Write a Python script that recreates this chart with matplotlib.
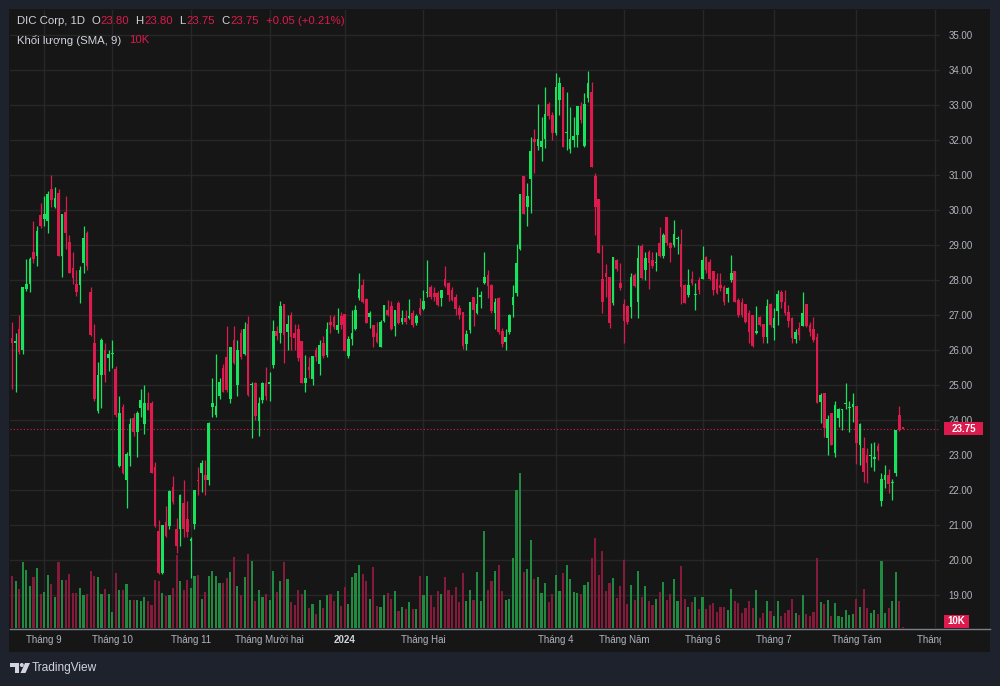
import matplotlib
matplotlib.use("Agg")
import matplotlib.pyplot as plt
from matplotlib.patches import Rectangle, Polygon, Circle
from matplotlib.lines import Line2D
from matplotlib.transforms import Affine2D, Bbox, TransformedBbox, blended_transform_factory

FONT = ['Liberation Sans', 'DejaVu Sans']
plt.rcParams['font.family'] = FONT

# ---------------- data ----------------
opens = [
    26.35, 26.2, 26.6, 26.0, 27.75, 27.9, 28.8, 28.7, 29.85, 29.75,
    29.7, 30.6, 30.1, 30.5, 28.7, 29.95, 29.1, 28.35, 27.9, 27.86,
    28.5, 29.35, 27.66, 26.2, 24.25, 25.3, 26.0, 25.77, 25.88, 25.45,
    22.7, 24.37, 22.3, 22.97, 24.05, 23.66, 24.35, 23.9, 24.5, 24.5,
    22.65, 20.83, 19.63, 21.1, 20.97, 22.1, 20.9, 20.89, 21.63, 21.17,
    20.55, 21.03, 22.3, 22.5, 22.43, 22.3, 24.37, 24.15, 24.7, 25.5,
    25.8, 24.6, 26.3, 25.0, 26.5, 25.9, 26.74, 25.0, 25.06, 23.97,
    24.57, 25.06, 25.03, 25.57, 26.54, 26.49, 27.31, 26.51, 27.0, 26.49,
    26.6, 26.26, 25.06, 25.51, 25.17, 26.0, 25.6, 26.2, 25.86, 26.8,
    26.94, 26.57, 26.97, 27.03, 25.83, 26.31, 26.6, 27.49, 27.86, 27.46,
    26.94, 26.71, 26.49, 26.09, 26.83, 27.14, 27.26, 26.69, 27.34, 26.8,
    26.91, 26.91, 27.06, 26.77, 27.2, 27.17, 27.63, 27.8, 27.63, 27.63,
    27.49, 28.03, 27.91, 27.71, 27.51, 27.2, 27.09, 26.17, 26.57, 27.51,
    27.06, 27.52, 27.91, 28.14, 27.86, 27.06, 27.49, 26.54, 26.23, 26.51,
    27.29, 27.63, 28.89, 30.97, 30.09, 30.89, 32.03, 31.83, 31.8, 32.03,
    33.03, 32.71, 32.2, 33.14, 33.51, 32.2, 31.74, 32.0, 32.14, 32.97,
    31.83, 33.2, 33.37, 30.97, 30.31, 28.03, 28.2, 28.09, 27.34, 28.57,
    27.91, 27.31, 27.26, 27.23, 28.14, 27.37, 28.97, 28.29, 28.8, 28.57,
    28.49, 29.06, 28.69, 29.8, 29.06, 29.0, 29.17, 29.03, 27.86, 27.57,
    28.03, 27.57, 28.0, 28.03, 28.66, 28.51, 28.26, 28.03, 27.86, 27.8,
    27.6, 28.0, 28.26, 27.43, 27.37, 27.31, 27.06, 27.0, 26.49, 26.94,
    26.74, 26.37, 27.31, 26.63, 27.11, 27.66, 27.37, 27.09, 26.91, 26.31,
    26.63, 26.69, 27.31, 26.71, 26.6, 26.37, 24.51, 24.77, 23.49, 24.2,
    23.06, 24.06, 24.29, 24.47, 24.33, 24.37, 24.4, 23.29, 23.2, 23.0,
    22.98, 22.9, 23.26, 21.69, 22.29, 22.43, 22.19, 22.49, 24.14, 23.8,
]
highs = [
    26.8, 26.5, 27.0, 27.8, 28.6, 28.65, 29.7, 29.55, 30.2, 30.4,
    30.55, 31.0, 30.65, 30.6, 29.9, 30.4, 29.3, 28.8, 28.3, 28.4,
    29.55, 29.4, 27.8, 26.75, 25.65, 26.35, 26.2, 26.0, 26.3, 25.55,
    24.7, 24.45, 23.1, 24.05, 24.2, 24.25, 24.9, 25.0, 24.8, 24.55,
    22.8, 21.15, 21.0, 21.55, 22.0, 22.4, 21.2, 21.9, 22.3, 21.7,
    20.65, 22.0, 22.65, 22.85, 22.85, 23.95, 25.2, 25.9, 25.2, 25.6,
    26.7, 26.1, 26.7, 26.3, 26.6, 26.8, 26.97, 25.1, 25.1, 24.66,
    25.1, 25.51, 25.37, 26.85, 26.7, 27.4, 27.31, 27.0, 27.1, 26.74,
    26.74, 26.26, 25.86, 25.8, 25.83, 26.1, 26.3, 26.4, 26.8, 27.0,
    27.0, 27.2, 27.1, 27.03, 26.4, 27.14, 27.3, 28.2, 28.03, 27.5,
    27.11, 26.71, 26.8, 26.85, 27.3, 27.43, 27.4, 27.14, 27.4, 27.14,
    27.14, 27.46, 27.14, 27.03, 27.5, 27.71, 28.57, 27.86, 27.8, 27.7,
    27.71, 28.4, 27.95, 27.8, 27.6, 27.3, 27.09, 26.57, 27.37, 27.51,
    27.8, 27.7, 28.8, 28.3, 27.9, 27.5, 27.51, 26.63, 26.6, 27.03,
    27.86, 29.03, 30.46, 30.97, 30.77, 32.09, 32.31, 33.03, 32.66, 33.51,
    33.1, 32.8, 33.91, 33.8, 33.51, 33.37, 32.94, 32.66, 32.97, 33.1,
    33.34, 33.97, 33.66, 31.06, 30.31, 29.0, 28.46, 28.09, 28.66, 28.6,
    28.49, 27.46, 27.3, 28.2, 28.2, 29.0, 29.03, 28.8, 28.86, 28.8,
    28.8, 29.51, 29.35, 29.8, 29.09, 29.71, 29.26, 29.46, 27.9, 28.31,
    28.26, 27.91, 28.1, 28.97, 28.7, 28.6, 28.26, 28.2, 28.2, 27.86,
    27.8, 28.71, 28.26, 27.5, 27.5, 27.31, 27.14, 27.0, 27.26, 26.97,
    26.74, 27.46, 27.35, 27.2, 27.71, 27.71, 27.71, 27.3, 26.94, 26.6,
    26.8, 27.66, 27.31, 26.8, 26.94, 26.49, 24.77, 24.77, 24.14, 24.2,
    24.54, 24.34, 24.31, 25.06, 24.54, 24.77, 24.4, 23.91, 23.51, 23.2,
    23.34, 23.37, 23.34, 22.49, 22.71, 22.6, 22.31, 23.71, 24.4, 23.8,
]
lows = [
    24.9, 24.8, 25.9, 25.9, 27.7, 27.65, 28.5, 28.4, 29.5, 29.55,
    29.35, 30.1, 30.05, 28.7, 28.1, 28.9, 28.2, 27.9, 27.55, 27.35,
    28.2, 28.3, 26.4, 24.55, 24.2, 24.35, 25.1, 25.4, 25.5, 24.1,
    22.65, 22.45, 21.5, 22.7, 23.55, 22.95, 24.1, 23.6, 24.3, 22.5,
    20.95, 19.6, 19.6, 20.65, 20.9, 21.6, 20.2, 20.4, 20.66, 20.65,
    19.5, 20.9, 21.85, 21.95, 21.85, 22.15, 24.1, 24.1, 24.6, 24.8,
    24.8, 24.5, 25.6, 24.7, 25.75, 25.85, 24.7, 23.5, 24.0, 23.54,
    24.5, 24.57, 24.54, 25.5, 26.3, 26.2, 25.63, 26.0, 26.0, 26.0,
    25.7, 25.06, 24.8, 25.2, 25.0, 25.7, 25.3, 25.77, 25.8, 26.5,
    26.6, 26.5, 26.6, 25.97, 25.77, 26.14, 26.57, 27.43, 27.34, 26.77,
    26.63, 26.09, 26.2, 26.09, 26.8, 26.97, 26.57, 26.4, 26.74, 26.74,
    26.74, 26.89, 26.66, 26.71, 27.0, 27.14, 27.51, 27.46, 27.4, 27.26,
    27.26, 27.8, 27.4, 27.4, 27.0, 26.9, 26.03, 26.0, 26.5, 26.7,
    27.03, 27.2, 27.9, 27.5, 27.06, 26.6, 26.46, 26.09, 26.0, 26.46,
    26.94, 27.54, 28.86, 29.89, 29.54, 29.91, 31.06, 31.71, 31.4, 31.77,
    32.6, 32.0, 32.14, 32.71, 31.8, 31.71, 31.63, 31.8, 31.8, 32.5,
    31.8, 33.09, 31.23, 29.29, 28.77, 27.06, 27.51, 26.63, 27.3, 28.25,
    27.71, 26.2, 26.75, 26.91, 27.8, 26.91, 28.03, 28.0, 27.74, 28.35,
    28.26, 28.66, 28.63, 29.0, 28.51, 28.94, 28.74, 27.31, 27.34, 27.51,
    27.86, 27.14, 27.6, 28.03, 28.2, 28.0, 27.57, 27.6, 27.7, 27.3,
    27.37, 27.94, 27.37, 26.94, 26.94, 26.77, 26.2, 26.09, 26.46, 26.7,
    26.2, 26.2, 26.66, 26.3, 26.71, 27.2, 27.0, 26.66, 26.2, 26.2,
    26.3, 26.69, 26.66, 26.4, 26.23, 24.49, 23.91, 23.51, 23.0, 23.29,
    22.94, 23.8, 23.71, 24.31, 23.66, 23.94, 22.74, 22.71, 22.23, 22.2,
    22.66, 22.54, 22.86, 21.54, 22.06, 21.91, 21.71, 22.4, 23.69, 23.75,
]
closes = [
    26.2, 26.25, 25.95, 27.8, 27.9, 28.6, 28.6, 29.4, 29.55, 29.9,
    30.45, 30.3, 30.35, 28.7, 29.9, 29.35, 28.2, 28.05, 27.65, 28.3,
    29.2, 28.4, 26.43, 24.6, 25.3, 26.3, 25.3, 25.9, 25.92, 24.15,
    24.2, 22.49, 23.03, 23.9, 23.66, 24.2, 24.57, 24.5, 24.3, 22.5,
    20.97, 19.63, 21.0, 20.7, 21.97, 21.65, 20.4, 21.86, 20.9, 20.8,
    20.6, 22.0, 22.25, 22.77, 22.3, 23.91, 24.49, 24.4, 25.1, 24.8,
    24.85, 26.09, 25.63, 26.0, 25.8, 26.6, 24.71, 25.03, 24.11, 24.49,
    25.06, 24.69, 25.09, 26.54, 26.4, 27.26, 26.43, 26.74, 26.37, 26.34,
    25.77, 25.06, 25.2, 25.43, 25.83, 25.8, 26.14, 25.83, 26.6, 26.71,
    26.66, 26.71, 26.71, 25.97, 26.31, 26.49, 27.14, 27.74, 27.37, 26.77,
    27.06, 26.37, 26.23, 26.8, 27.29, 27.0, 26.6, 27.14, 26.77, 26.91,
    26.8, 26.97, 26.71, 26.97, 27.03, 27.4, 27.66, 27.51, 27.51, 27.29,
    27.71, 27.83, 27.57, 27.43, 27.17, 27.0, 26.11, 26.46, 27.37, 27.14,
    27.31, 27.56, 28.09, 27.83, 27.11, 27.37, 26.51, 26.17, 26.37, 27.0,
    27.51, 28.49, 30.46, 29.89, 30.4, 31.69, 31.94, 32.03, 31.97, 32.74,
    32.69, 32.2, 33.51, 33.63, 31.8, 32.23, 32.03, 32.11, 32.97, 32.57,
    33.03, 33.63, 31.23, 30.09, 28.77, 27.37, 28.09, 26.77, 28.66, 28.31,
    27.77, 26.83, 26.8, 28.09, 27.83, 28.63, 28.06, 28.63, 28.49, 28.4,
    28.51, 28.69, 29.29, 29.06, 28.91, 29.31, 29.2, 27.8, 27.34, 27.86,
    27.91, 27.6, 27.71, 28.57, 28.29, 28.03, 27.71, 27.63, 27.77, 27.37,
    27.77, 28.2, 27.37, 27.0, 27.0, 26.8, 26.51, 26.11, 26.54, 26.71,
    26.37, 27.26, 26.71, 26.91, 27.6, 27.37, 27.06, 26.83, 26.34, 26.51,
    26.43, 27.06, 26.69, 26.51, 26.29, 24.49, 24.71, 23.77, 24.03, 23.29,
    24.43, 24.31, 24.31, 24.49, 24.35, 24.46, 23.34, 23.89, 22.51, 22.77,
    23.0, 22.92, 23.11, 22.31, 22.43, 22.17, 22.21, 23.71, 23.71, 23.75,
]
# volume in thousands of shares
volumes_k = [
    520, 470, 390, 660, 580, 420, 510, 600, 340, 360,
    530, 440, 310, 660, 480, 480, 540, 350, 350, 400,
    330, 340, 570, 520, 510, 340, 390, 340, 160, 550,
    380, 380, 440, 280, 280, 280, 270, 310, 270, 230,
    480, 470, 350, 320, 330, 400, 730, 470, 380, 480,
    400, 520, 530, 290, 360, 520, 570, 520, 450, 450,
    500, 560, 710, 420, 330, 510, 740, 670, 270, 380,
    310, 340, 280, 570, 360, 470, 660, 490, 260, 230,
    380, 340, 380, 200, 240, 140, 280, 200, 330, 340,
    270, 370, 220, 410, 240, 510, 550, 630, 540, 470,
    290, 610, 220, 210, 330, 350, 290, 370, 170, 210,
    190, 260, 190, 190, 520, 330, 520, 330, 210, 370,
    340, 510, 380, 330, 410, 260, 550, 270,
    380, 280, 560, 270, 970, 380, 470, 570, 630, 370,
    280, 290, 700, 1380, 1550, 560, 590, 880, 490, 510,
    350, 450, 260, 340, 530, 370, 550, 630, 490, 360,
    350, 340, 430, 460, 700, 900, 530, 770, 370, 450,
    500, 300, 420, 680, 240, 430, 280, 570, 310, 420,
    270, 230, 290, 360, 460, 280, 340, 490, 270, 620,
    290, 210, 260, 310, 190, 310, 190, 230, 250, 160,
    210, 210, 180, 390, 270, 250, 150, 200, 270, 200,
    380, 100, 150, 270, 170, 120, 270, 120, 150, 180,
    290, 150, 130, 330, 140, 120, 160, 700, 260, 240,
    280, 120, 250, 120, 110, 180, 130, 140, 290, 210,
    390, 200, 150, 180, 140, 670, 150, 200, 270, 560,
    270, 10,
]
month_labels = ['Tháng 9', 'Tháng 10', 'Tháng 11', 'Tháng Mười hai', '2024', 'Tháng Hai',
                'Tháng 4', 'Tháng Năm', 'Tháng 6', 'Tháng 7', 'Tháng Tám', 'Tháng 9']
month_pos = [9, 28, 50, 72, 93, 115, 152, 171, 193, 213, 236, 258]
price_ticks = list(range(19, 36))
last_price = 23.75
last_volume_label = '10K'

# ---------------- style ----------------
BG_OUT = '#1e222d'
PANE = '#161616'
GRID = '#272727'
UP = '#17e35c'
DOWN = '#dd1a4d'
VUP = '#1f8a40'
VDOWN = '#861a3a'
TXT = '#d1d4dc'
AXT = '#b2b5be'

W, H = 1000, 686
fig = plt.figure(figsize=(W / 100, H / 100), dpi=100, facecolor=BG_OUT)
pix = Affine2D().scale(1, -1).translate(0, H)  # pixel coords, origin top-left

fig.add_artist(Rectangle((9, 9), 981, 643, transform=pix, facecolor=PANE,
                         edgecolor='none', zorder=0))

rect = [10 / W, (H - 628) / H, 930 / W, 618 / H]
n = len(closes)
xs = list(range(n))
xlim = (-0.56, 259.36)
ylim = (36 - 628 / 35, 36 - 10 / 35)

axv = fig.add_axes(rect)
ax = fig.add_axes(rect)
ax.patch.set_alpha(0)
axv.set_axis_off()
axv.set_xlim(*xlim)
axv.set_ylim(0, 6180)
ax.set_xlim(*xlim)
ax.set_ylim(*ylim)

# grid (bottom layer)
hgrid_tr = blended_transform_factory(axv.transAxes, ax.transData)
for p in price_ticks:
    axv.add_line(Line2D([0, 1], [p, p], transform=hgrid_tr, color=GRID, lw=1, zorder=0))
for m in month_pos:
    axv.axvline(m, color=GRID, lw=1, zorder=0)

up = [c >= o for o, c in zip(opens, closes)]
# volume
axv.bar(xs, volumes_k, width=0.6, color=[VUP if u else VDOWN for u in up],
        linewidth=0, zorder=2)

# candles
ccol = [UP if u else DOWN for u in up]
ax.vlines(xs, lows, highs, colors=ccol, lw=0.9, zorder=3)
bottoms = [min(o, c) for o, c in zip(opens, closes)]
heights = [max(abs(c - o), 0.03) for o, c in zip(opens, closes)]
ax.bar(xs, heights, bottom=bottoms, width=0.74, color=ccol, linewidth=0, zorder=4)

ax.axhline(last_price, color=DOWN, lw=0.8, ls=(0, (1, 2)), zorder=2)

for s in ax.spines.values():
    s.set_visible(False)
ax.set_xticks([])
ax.yaxis.tick_right()
ax.set_yticks(price_ticks)
ax.set_yticklabels([f'{p:.2f}' for p in price_ticks])
ax.tick_params(axis='y', length=0, pad=6, labelsize=7, labelcolor=AXT)

# time axis labels (clipped at the pane edge)
tl_tr = blended_transform_factory(ax.transData, pix)
clip = TransformedBbox(Bbox([[10, 628], [941, 652]]), pix)
for pos, lab in zip(month_pos, month_labels):
    t = ax.text(pos, 640, lab, transform=tl_tr, ha='center', va='center',
                fontsize=7, color=(TXT if lab == '2024' else AXT),
                fontweight=('bold' if lab == '2024' else 'normal'))
    t.set_clip_on(True)
    t.set_clip_box(clip)

# separator above time axis
fig.add_artist(Line2D([10, 990], [628.5, 628.5], transform=pix, color='#7c7f88', lw=1))

# price label boxes
y_last = H - ax.transData.transform((0, last_price))[1]
fig.add_artist(Rectangle((944, y_last - 6.5), 39, 13, transform=pix, facecolor=DOWN,
                         edgecolor='none', zorder=5))
fig.text(963.5 / W, 1 - y_last / H, f'{last_price:.2f}', color='white', fontsize=7,
         ha='center', va='center', fontweight='bold', zorder=6)
y_vol = min(H - axv.transData.transform((0, volumes_k[-1]))[1], 628 - 7)
fig.add_artist(Rectangle((944, y_vol - 6.5), 25, 13, transform=pix, facecolor=DOWN,
                         edgecolor='none', zorder=5))
fig.text(956.5 / W, 1 - y_vol / H, last_volume_label, color='white', fontsize=7,
         ha='center', va='center', fontweight='bold', zorder=6)

# header
HS = 8.2
def chain(first, parts):
    prev = first
    for s, c, gap in parts:
        prev = ax.annotate(s, xy=(1, 0.5), xycoords=prev, xytext=(gap, 0),
                           textcoords='offset pixels', va='center', ha='left',
                           color=c, fontsize=HS, annotation_clip=False)

o_, h_, l_, c_ = opens[-1], highs[-1], lows[-1], closes[-1]
t1 = ax.text(17, 21, 'DIC Corp, 1D', transform=pix, va='center', ha='left',
             color=TXT, fontsize=HS)
chain(t1, [('O', TXT, 6), (f'{o_:.2f}', DOWN, 1), ('H', TXT, 6), (f'{h_:.2f}', DOWN, 1),
           ('L', TXT, 6), (f'{l_:.2f}', DOWN, 1), ('C', TXT, 6), (f'{c_:.2f}', DOWN, 1),
           ('+0.05 (+0.21%)', DOWN, 7)])
t2 = ax.text(17, 40, 'Khối lượng (SMA, 9)', transform=pix, va='center', ha='left',
             color=TXT, fontsize=HS)
chain(t2, [(last_volume_label, DOWN, 8)])

# TradingView logo
LOGO = '#d1d4dc'
fig.add_artist(Polygon([(10, 663), (19, 663), (19, 673), (15, 673), (15, 667), (10, 667)],
                       closed=True, transform=pix, facecolor=LOGO, edgecolor='none'))
fig.add_artist(Circle((21.8, 665), 2.0, transform=pix, facecolor=LOGO, edgecolor='none'))
fig.add_artist(Polygon([(25, 663), (30, 663), (25.5, 673), (20.5, 673)], closed=True,
                       transform=pix, facecolor=LOGO, edgecolor='none'))
fig.text(32 / W, 1 - 668 / H, 'TradingView', color=LOGO, fontsize=8.6,
         ha='left', va='center')

fig.savefig('out.png', dpi=100, facecolor=BG_OUT)
